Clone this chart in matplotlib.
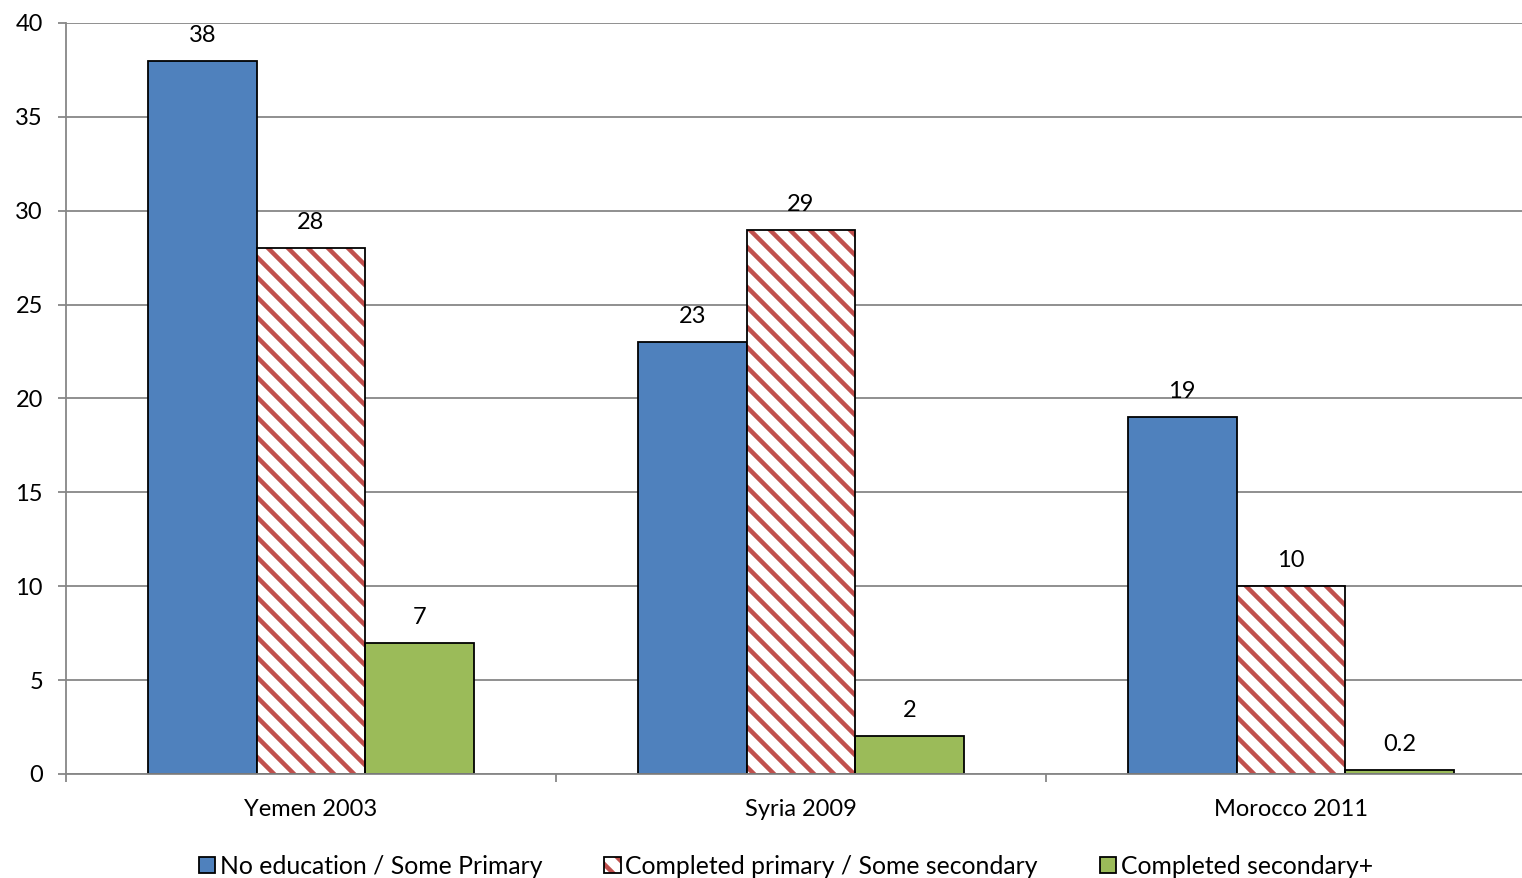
import matplotlib.pyplot as plt
import numpy as np
from matplotlib.patches import Patch

DPI = 120


def pt(px):
    # pixel size -> points at the output dpi
    return px * 72 / DPI


plt.rcParams['font.family'] = ['Lato', 'DejaVu Sans']
plt.rcParams['hatch.linewidth'] = pt(4.5)

# Survey data by country/year and education level
countries = ["Yemen 2003", "Syria 2009", "Morocco 2011"]
series_names = ["No education / Some Primary",
                "Completed primary / Some secondary",
                "Completed secondary+"]
no_education = [38, 23, 19]
completed_primary = [28, 29, 10]
completed_secondary = [7, 2, 0.2]
value_labels = [["38", "23", "19"], ["28", "29", "10"], ["7", "2", "0.2"]]

blue = '#4F81BD'
red = '#C0504D'
green = '#9BBB59'
grid_col = '#868686'
fs = pt(23.6)
lw = pt(1.8)

fig = plt.figure(figsize=(1522 / DPI, 878 / DPI), dpi=DPI)
ax = fig.add_axes([66 / 1522, 1 - 774 / 878, 1 - 66 / 1522, (774 - 23) / 878])

x = np.arange(len(countries))
w = 0.222
series = [no_education, completed_primary, completed_secondary]

for i, vals in enumerate(series):
    pos = x + (i - 1) * w
    if i == 1:
        # red stripes first, black outline drawn on top
        ax.bar(pos, vals, w, color='white', edgecolor=red, hatch='\\\\',
               linewidth=0, zorder=3)
        bars = ax.bar(pos, vals, w, fill=False, edgecolor='black',
                      linewidth=lw, zorder=3.5)
    else:
        bars = ax.bar(pos, vals, w, color=[blue, None, green][i],
                      edgecolor='black', linewidth=lw, zorder=3)
    for b, lab in zip(bars, value_labels[i]):
        ax.annotate(lab, (b.get_x() + b.get_width() / 2, b.get_height()),
                    xytext=(0, pt(15)), textcoords='offset points',
                    ha='center', va='bottom', fontsize=fs)

ax.set_ylim(0, 40)
ax.set_yticks(range(0, 41, 5))
ax.grid(axis='y', color=grid_col, linewidth=lw, zorder=0)

# category boundaries carry tick marks, centres carry the labels
ax.set_xticks([-0.5, 0.5, 1.5, 2.5])
ax.set_xticklabels([])
ax.set_xticks(x, minor=True)
ax.set_xticklabels(countries, minor=True)
ax.set_xlim(-0.5, -0.5 + 1456 / 490)
ax.tick_params(axis='x', which='major', length=pt(8), color=grid_col, width=lw)
ax.tick_params(axis='x', which='minor', length=0, pad=pt(25), labelsize=fs)
ax.tick_params(axis='y', length=pt(8), color=grid_col, width=lw, pad=pt(15),
               labelsize=fs)

for side in ['top', 'right']:
    ax.spines[side].set_visible(False)
for side in ['left', 'bottom']:
    ax.spines[side].set_color(grid_col)
    ax.spines[side].set_linewidth(lw)
    ax.spines[side].set_zorder(4)

hatched = (Patch(facecolor='white', edgecolor=red, hatch='\\\\', linewidth=0),
           Patch(fill=False, edgecolor='black', linewidth=lw))
handles = [Patch(facecolor=blue, edgecolor='black', linewidth=lw), hatched,
           Patch(facecolor=green, edgecolor='black', linewidth=lw)]
fig.legend(handles, series_names, loc='center',
           bbox_to_anchor=(786 / 1522, 1 - 866 / 878),
           ncol=3, frameon=False, fontsize=pt(24.8), handlelength=0.65,
           handleheight=0.65, handletextpad=0.2, columnspacing=2.5)

fig.savefig('out.png', dpi=DPI)
